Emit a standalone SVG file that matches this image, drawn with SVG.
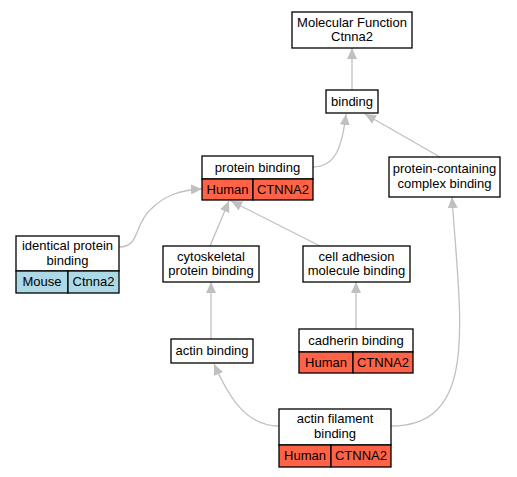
<svg xmlns="http://www.w3.org/2000/svg" width="517" height="477" viewBox="0 0 517 477">
<defs>
<style>
.box{fill:#ffffff;stroke:#000000;stroke-width:1.3}
.hum{fill:#ff6347;stroke:#000000;stroke-width:1.3}
.mou{fill:#add8e6;stroke:#000000;stroke-width:1.3}
text{font-family:"Liberation Sans",Arial,sans-serif;font-size:13px;fill:#000000;text-anchor:middle}
.edge{fill:none;stroke:#c0c0c0;stroke-width:1.3}
</style>
<marker id="arr" markerWidth="11" markerHeight="10" refX="11" refY="5" orient="auto" markerUnits="userSpaceOnUse">
<path d="M0,0 L11,5 L0,10 Z" fill="#c0c0c0"/>
</marker>
</defs>
<rect width="517" height="477" fill="#ffffff"/>
<g id="connectors">
<path class="edge" d="M352,90 L352,48" marker-end="url(#arr)"/>
<path class="edge" d="M313,167 C335,167 342,148 346,114" marker-end="url(#arr)"/>
<path class="edge" d="M440,157 L365,114" marker-end="url(#arr)"/>
<path class="edge" d="M119,247 C140,247 134,225 150,210 C165,195 180,190 202,189" marker-end="url(#arr)"/>
<path class="edge" d="M210,246 L229,201" marker-end="url(#arr)"/>
<path class="edge" d="M320,246 L231,201" marker-end="url(#arr)"/>
<path class="edge" d="M211,339 L211,282" marker-end="url(#arr)"/>
<path class="edge" d="M356,329 L356,282" marker-end="url(#arr)"/>
<path class="edge" d="M279,426 C245,426 228,395 214,364" marker-end="url(#arr)"/>
<path class="edge" d="M391,426 C480,426 460,320 452,197" marker-end="url(#arr)"/>
</g>
<g id="mf">
<rect class="box" x="292" y="12" width="120" height="36"/>
<text x="352" y="27">Molecular Function</text>
<text x="352" y="41">Ctnna2</text>
</g>
<g id="binding">
<rect class="box" x="326" y="90" width="52" height="23"/>
<text x="352" y="106">binding</text>
</g>
<g id="protein_binding">
<rect class="box" x="202" y="156" width="111" height="23"/>
<text x="257.5" y="172">protein binding</text>
<rect class="hum" x="202" y="179" width="51" height="21"/>
<text x="227.5" y="194">Human</text>
<rect class="hum" x="253" y="179" width="60" height="21"/>
<text x="283" y="194">CTNNA2</text>
</g>
<g id="complex_binding">
<rect class="box" x="389" y="157" width="111" height="40"/>
<text x="444.5" y="173">protein-containing</text>
<text x="444.5" y="188">complex binding</text>
</g>
<g id="identical_protein_binding">
<rect class="box" x="16" y="236" width="103" height="35"/>
<text x="67.5" y="250">identical protein</text>
<text x="67.5" y="265">binding</text>
<rect class="mou" x="16" y="271" width="52" height="22"/>
<text x="42" y="286">Mouse</text>
<rect class="mou" x="68" y="271" width="51" height="22"/>
<text x="93.5" y="286">Ctnna2</text>
</g>
<g id="cytoskeletal">
<rect class="box" x="163" y="246" width="96" height="36"/>
<text x="211" y="261">cytoskeletal</text>
<text x="211" y="275">protein binding</text>
</g>
<g id="cell_adhesion">
<rect class="box" x="303" y="246" width="107" height="36"/>
<text x="356.5" y="261">cell adhesion</text>
<text x="356.5" y="275">molecule binding</text>
</g>
<g id="actin_binding">
<rect class="box" x="171" y="339" width="82" height="24"/>
<text x="212" y="355">actin binding</text>
</g>
<g id="cadherin_binding">
<rect class="box" x="299" y="329" width="114" height="23"/>
<text x="356" y="345">cadherin binding</text>
<rect class="hum" x="299" y="352" width="54" height="21"/>
<text x="326" y="367">Human</text>
<rect class="hum" x="353" y="352" width="60" height="21"/>
<text x="383" y="367">CTNNA2</text>
</g>
<g id="actin_filament_binding">
<rect class="box" x="279" y="409" width="112" height="36"/>
<text x="335" y="423">actin filament</text>
<text x="335" y="438">binding</text>
<rect class="hum" x="279" y="445" width="52" height="22"/>
<text x="305" y="460">Human</text>
<rect class="hum" x="331" y="445" width="60" height="22"/>
<text x="361" y="460">CTNNA2</text>
</g>
</svg>
